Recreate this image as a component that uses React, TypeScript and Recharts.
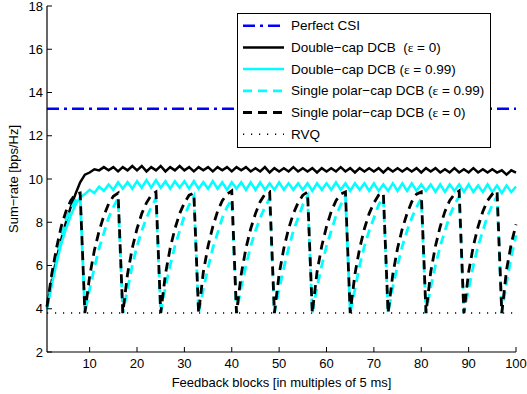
import { LineChart, Line, XAxis, YAxis, ReferenceLine, Legend } from 'recharts';

// feedback block index 1..100
const BLOCKS = Array.from({ length: 100 }, (_, i) => i + 1);

const X_TICKS = [10, 20, 30, 40, 50, 60, 70, 80, 90, 100];
const Y_TICKS = [2, 4, 6, 8, 10, 12, 14, 16, 18];

const PERFECT_CSI = 13.25;
const RVQ = 3.8;

// Double-cap DCB (eps = 0)
const DCB_EPS0 = [
  4.1, 5.3, 6.3, 7.2, 8.0, 8.7, 9.3, 9.85, 10.2, 10.3,
  10.45, 10.4, 10.55, 10.4, 10.55, 10.35, 10.55, 10.4, 10.6, 10.4,
  10.6, 10.35, 10.55, 10.4, 10.6, 10.35, 10.55, 10.4, 10.6, 10.4,
  10.55, 10.35, 10.55, 10.4, 10.55, 10.35, 10.55, 10.4, 10.55, 10.35,
  10.55, 10.4, 10.55, 10.35, 10.5, 10.35, 10.55, 10.3, 10.5, 10.35,
  10.5, 10.35, 10.55, 10.35, 10.5, 10.35, 10.5, 10.3, 10.5, 10.35,
  10.5, 10.35, 10.55, 10.35, 10.5, 10.3, 10.5, 10.35, 10.5, 10.35,
  10.5, 10.3, 10.5, 10.35, 10.5, 10.35, 10.5, 10.35, 10.5, 10.3,
  10.5, 10.35, 10.5, 10.3, 10.45, 10.3, 10.5, 10.3, 10.45, 10.3,
  10.5, 10.3, 10.45, 10.3, 10.45, 10.3, 10.4, 10.2, 10.4, 10.3,
];

// Double-cap DCB (eps = 0.99)
const DCB_EPS99 = [
  4.0, 5.1, 6.1, 7.0, 7.7, 8.3, 8.8, 9.15, 9.3, 9.5,
  9.35, 9.65, 9.45, 9.75, 9.5, 9.85, 9.55, 9.85, 9.55, 9.9,
  9.6, 9.95, 9.6, 9.95, 9.6, 9.9, 9.55, 9.9, 9.6, 9.9,
  9.55, 9.9, 9.55, 9.85, 9.55, 9.9, 9.55, 9.85, 9.5, 9.85,
  9.55, 9.85, 9.5, 9.85, 9.5, 9.85, 9.5, 9.8, 9.5, 9.85,
  9.5, 9.8, 9.5, 9.8, 9.5, 9.8, 9.45, 9.8, 9.5, 9.8,
  9.5, 9.85, 9.5, 9.8, 9.45, 9.8, 9.5, 9.8, 9.45, 9.8,
  9.45, 9.75, 9.45, 9.8, 9.45, 9.8, 9.45, 9.8, 9.45, 9.75,
  9.45, 9.75, 9.4, 9.75, 9.4, 9.75, 9.45, 9.75, 9.4, 9.75,
  9.4, 9.7, 9.4, 9.75, 9.4, 9.7, 9.35, 9.7, 9.4, 9.65,
];

// Single polar-cap DCB (eps = 0.99)
const SPC_EPS99 = [
  4.0, 5.2, 6.3, 7.3, 8.1, 8.6, 9.0, 9.2,
  3.8, 4.9, 5.9, 6.8, 7.5, 8.2, 8.7, 9.1,
  3.8, 4.9, 6.0, 6.9, 7.6, 8.2, 8.7, 9.1,
  3.8, 5.0, 6.0, 6.9, 7.6, 8.3, 8.8, 9.2,
  3.8, 4.9, 5.9, 6.8, 7.5, 8.2, 8.7, 9.05,
  3.8, 5.0, 6.0, 6.9, 7.6, 8.2, 8.7, 9.1,
  3.8, 4.9, 5.9, 6.8, 7.6, 8.2, 8.8, 9.2,
  3.8, 5.0, 6.0, 6.9, 7.6, 8.3, 8.8, 9.2,
  3.8, 4.9, 6.0, 6.9, 7.6, 8.2, 8.8, 9.15,
  3.8, 5.0, 6.0, 6.9, 7.6, 8.2, 8.7, 9.1,
  3.8, 5.0, 6.0, 6.9, 7.6, 8.3, 8.8, 9.2,
  3.8, 4.9, 6.0, 6.9, 7.6, 8.3, 8.8, 9.2,
  3.8, 5.2, 6.4, 7.4,
];

// Single polar-cap DCB (eps = 0)
const SPC_EPS0 = [
  4.1, 5.6, 6.8, 7.8, 8.5, 9.0, 9.3, 9.35,
  3.8, 5.5, 6.7, 7.6, 8.3, 8.85, 9.2, 9.35,
  3.8, 5.6, 6.8, 7.7, 8.4, 8.9, 9.25, 9.4,
  3.8, 5.6, 6.8, 7.7, 8.4, 8.9, 9.25, 9.35,
  3.8, 5.7, 6.9, 7.8, 8.5, 9.0, 9.3, 9.45,
  3.8, 5.6, 6.8, 7.7, 8.4, 8.95, 9.3, 9.4,
  3.8, 5.6, 6.8, 7.7, 8.4, 8.9, 9.25, 9.4,
  3.8, 5.7, 6.9, 7.8, 8.5, 9.0, 9.3, 9.4,
  3.8, 5.6, 6.8, 7.7, 8.4, 8.9, 9.25, 9.35,
  3.8, 5.6, 6.8, 7.7, 8.4, 8.95, 9.3, 9.4,
  3.8, 5.7, 6.9, 7.8, 8.5, 9.0, 9.3, 9.45,
  3.8, 5.7, 6.9, 7.8, 8.5, 9.0, 9.3, 9.45,
  3.8, 5.8, 7.0, 7.9,
];

const data = BLOCKS.map((x, i) => ({
  x,
  dcb0: DCB_EPS0[i],
  dcb99: DCB_EPS99[i],
  spc99: SPC_EPS99[i],
  spc0: SPC_EPS0[i],
}));

const FONT = '"Liberation Sans", Arial, sans-serif';
const TICK_LEN = 5;

const LEGEND_ITEMS = [
  { label: 'Perfect CSI', eps: '', color: '#0000ff', dash: '12 5 3 5', width: 2.5 },
  { label: 'Double\u2212cap DCB  (', eps: ' = 0)', color: '#000', dash: undefined, width: 2.5 },
  { label: 'Double\u2212cap DCB (', eps: ' = 0.99)', color: '#00ffff', dash: undefined, width: 2.5 },
  { label: 'Single polar\u2212cap DCB (', eps: ' = 0.99)', color: '#00ffff', dash: '9 6', width: 2.8 },
  { label: 'Single polar\u2212cap DCB (', eps: ' = 0)', color: '#000', dash: '9 6', width: 2.8 },
  { label: 'RVQ', eps: '', color: '#000', dash: '1.2 6.8', width: 1.5 },
];

function BottomTick(props: any) {
  const { x, y, payload } = props;
  return (
    <g>
      <line x1={x} y1={y} x2={x} y2={y - TICK_LEN} stroke="#000" />
      <text x={x} y={y + 16} textAnchor="middle" fontSize={13} fontFamily={FONT} fill="#000">
        {payload.value}
      </text>
    </g>
  );
}

function TopTick(props: any) {
  const { x, y } = props;
  return <line x1={x} y1={y} x2={x} y2={y + TICK_LEN} stroke="#000" />;
}

function LeftTick(props: any) {
  const { x, y, payload } = props;
  return (
    <g>
      <line x1={x} y1={y} x2={x + TICK_LEN} y2={y} stroke="#000" />
      <text x={x - 4} y={y} dy={4.5} textAnchor="end" fontSize={13} fontFamily={FONT} fill="#000">
        {payload.value}
      </text>
    </g>
  );
}

function RightTick(props: any) {
  const { x, y } = props;
  return <line x1={x} y1={y} x2={x - TICK_LEN} y2={y} stroke="#000" />;
}

function LegendBox() {
  return (
    <div style={{ border: '1px solid #000', background: '#fff', width: 254, height: 135, boxSizing: 'border-box' }}>
      <svg width={252} height={133} style={{ display: 'block' }}>
        {LEGEND_ITEMS.map((it, i) => {
          const cy = 11.7 + i * 21.7;
          return (
            <g key={i}>
              <line x1={5} x2={46} y1={cy} y2={cy} stroke={it.color} strokeWidth={it.width} strokeDasharray={it.dash} />
              <text x={53} y={cy} dy={4.6} fontSize={13.5} fontFamily={FONT} fill="#000" style={{ whiteSpace: 'pre' }}>
                {it.label}
                {it.eps && <tspan fontFamily='"Liberation Serif", serif'>ε</tspan>}
                {it.eps}
              </text>
            </g>
          );
        })}
      </svg>
    </div>
  );
}

export default function App() {
  return (
    <div style={{ position: 'absolute', left: 0, top: 0, background: '#fff' }}>
      <LineChart width={527} height={394} data={data} margin={{ top: 6, right: 11, bottom: 2, left: 7 }}>
        <XAxis
          dataKey="x"
          type="number"
          domain={[1, 100]}
          ticks={X_TICKS}
          interval={0}
          height={40}
          tickSize={0}
          tickMargin={0}
          tick={<BottomTick />}
          axisLine={{ stroke: '#000', strokeWidth: 1.2 }}
          label={(p: any) => (
            <text
              x={p.viewBox.x + p.viewBox.width / 2}
              y={387}
              textAnchor="middle"
              fontSize={13}
              fontFamily={FONT}
              fill="#000"
            >
              Feedback blocks [in multiples of 5 ms]
            </text>
          )}
        />
        <XAxis
          xAxisId="top"
          orientation="top"
          dataKey="x"
          type="number"
          domain={[1, 100]}
          ticks={X_TICKS}
          interval={0}
          height={0}
          tickSize={0}
          tickMargin={0}
          tick={<TopTick />}
          axisLine={{ stroke: '#000', strokeWidth: 1.2 }}
        />
        <YAxis
          type="number"
          domain={[2, 18]}
          ticks={Y_TICKS}
          interval={0}
          width={40}
          tickSize={0}
          tickMargin={0}
          tick={<LeftTick />}
          axisLine={{ stroke: '#000', strokeWidth: 1.2 }}
          label={(p: any) => (
            <text
              transform={`translate(18, ${p.viewBox.y + p.viewBox.height / 2}) rotate(-90)`}
              textAnchor="middle"
              fontSize={13}
              fontFamily={FONT}
              fill="#000"
            >
              Sum{'\u2212'}rate [bps/Hz]
            </text>
          )}
        />
        <YAxis
          yAxisId="right"
          orientation="right"
          type="number"
          domain={[2, 18]}
          ticks={Y_TICKS}
          interval={0}
          width={0}
          tickSize={0}
          tickMargin={0}
          tick={<RightTick />}
          axisLine={{ stroke: '#000', strokeWidth: 1.2 }}
        />
        <ReferenceLine y={PERFECT_CSI} stroke="#0000ff" strokeWidth={2.5} strokeDasharray="12 5 3 5" />
        <ReferenceLine y={RVQ} stroke="#000" strokeWidth={1.5} strokeDasharray="1.2 6.8" />
        <Line dataKey="dcb0" stroke="#000" strokeWidth={2.5} dot={false} isAnimationActive={false} />
        <Line dataKey="dcb99" stroke="#00ffff" strokeWidth={2.5} dot={false} isAnimationActive={false} />
        <Line dataKey="spc99" stroke="#00ffff" strokeWidth={2.8} strokeDasharray="9 6" dot={false} isAnimationActive={false} />
        <Line dataKey="spc0" stroke="#000" strokeWidth={2.8} strokeDasharray="9 6" dot={false} isAnimationActive={false} />
        <Legend
          layout="vertical"
          verticalAlign="middle"
          align="center"
          content={() => <LegendBox />}
          wrapperStyle={{ left: 237, top: 13, width: 254, height: 135 }}
        />
      </LineChart>
    </div>
  );
}
